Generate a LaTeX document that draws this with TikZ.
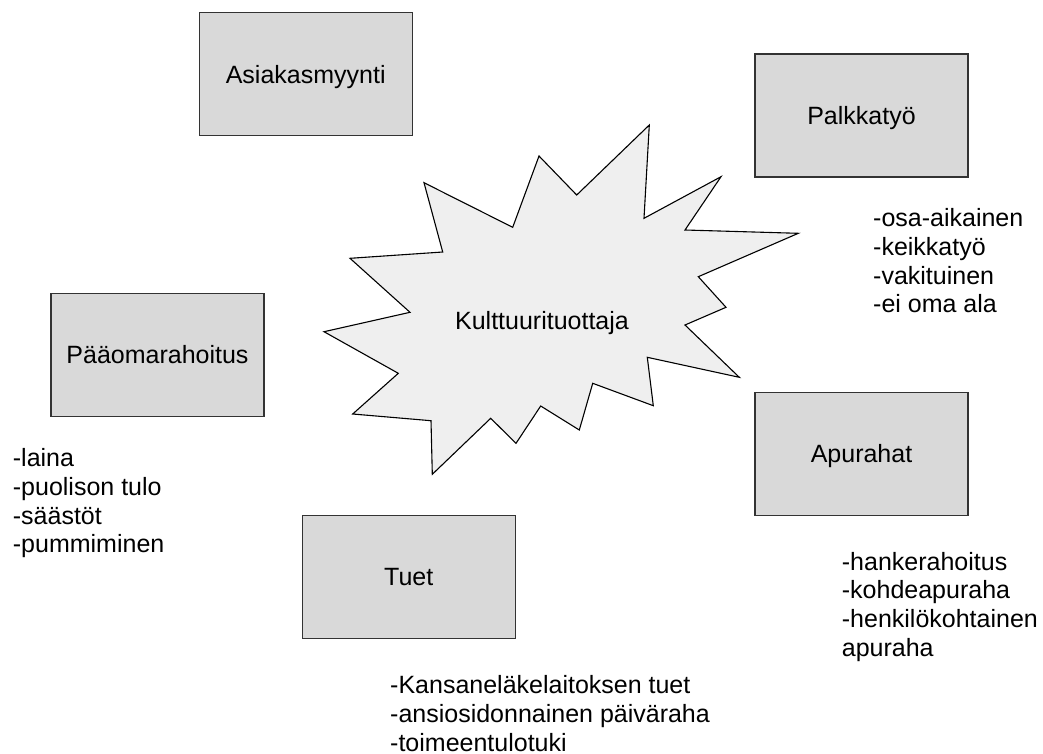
\documentclass[tikz,border=0pt]{standalone}
\usepackage{fontspec}
\setmainfont{Liberation Sans}
\definecolor{boxfill}{HTML}{D9D9D9}
\definecolor{starfill}{HTML}{EFEFEF}
\definecolor{edge}{HTML}{333333}
\tikzset{
  source/.style={draw=edge, line width=1.2pt, fill=boxfill, inner sep=0pt,
    minimum width=213pt, minimum height=123pt,
    text height=17.9pt, text depth=0pt,
    font=\fontsize{25}{28.6}\selectfont},
  % anchored at the baseline of the last line
  itemlist/.style={align=left, inner sep=0pt, anchor=base west,
    font=\fontsize{25}{28.6}\selectfont},
  burst/.style={draw=black, line width=1.1pt, fill=starfill, line join=miter}
}
\begin{document}
\begin{tikzpicture}[x=1pt,y=-1pt]
\useasboundingbox (0,0) rectangle (1043,753);
\fill[white] (0,0) rectangle (1043,753);

% central burst
\draw[burst] (424,182.7) -- (512.7,227.3) -- (539,156) -- (576.7,195)
  -- (649.3,125) -- (644,218.3) -- (721,176.7) -- (685,230)
  -- (798.3,233.3) -- (698.3,276.7) -- (726,307.3) -- (685,325)
  -- (739.3,377.3) -- (647.3,357.3) -- (653.3,405.7) -- (592.7,383.3)
  -- (579.3,430) -- (540.7,406) -- (516,443.3) -- (490.7,418.3)
  -- (432.3,474.3) -- (431,420.7) -- (352.7,414) -- (398.3,373.3)
  -- (324,331.7) -- (410,312.3) -- (350,258.3) -- (442.7,252) -- cycle;
\node[inner sep=0pt, anchor=base, font=\fontsize{25}{28.6}\selectfont]
  (core) at (542,329) {Kulttuurituottaja};

% income sources
\node[source] (asiakas) at (305.7,74.3) {Asiakasmyynti};
\node[source] (palkka) at (861.5,115.5) {Palkkatyö};
\node[source] (paaoma) at (157.5,355) {Pääomarahoitus};
\node[source] (apuraha) at (861.5,453.7) {Apurahat};
\node[source] (tuet) at (408.7,576.7) {Tuet};

% details under each source
\node[itemlist] (palkkalist) at (873,312.7)
  {-osa-aikainen\\-keikkatyö\\-vakituinen\\-ei oma ala};
\node[itemlist] (paaomalist) at (12.7,552.7)
  {-laina\\-puolison tulo\\-säästöt\\-pummiminen};
\node[itemlist] (apurahalist) at (841.7,656)
  {-hankerahoitus\\-kohdeapuraha\\-henkilökohtainen\\apuraha};
\node[itemlist] (tuetlist) at (390,751)
  {-Kansaneläkelaitoksen tuet\\-ansiosidonnainen päiväraha\\-toimeentulotuki};
\end{tikzpicture}
\end{document}
